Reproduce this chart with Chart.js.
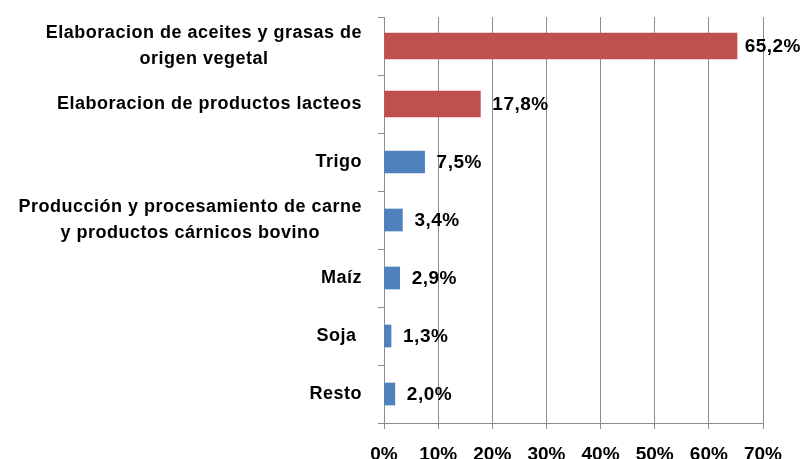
<!DOCTYPE html>
<html>
<head>
<meta charset="utf-8">
<script src="https://cdn.jsdelivr.net/npm/chart.js@4.4.1/dist/chart.umd.min.js"></script>
<style>
  html, body { margin: 0; padding: 0; background: #fff; }
  #wrap { width: 803px; height: 459px; }
</style>
</head>
<body>
<div id="wrap"><canvas id="chart"></canvas></div>
<script>
// Categories (multi-line ones split into arrays)
const categories = [
    ['Elaboracion de aceites y grasas de', 'origen vegetal'],
    ['Elaboracion de productos lacteos'],
    ['Trigo'],
    ['Producción y procesamiento de carne', 'y productos cárnicos bovino'],
    ['Maíz'],
    ['Soja '],
    ['Resto']
];
// Shares in %, red series (industrial) and blue series (primary)
const redValues = [65.2, 17.8, null, null, null, null, null];
const blueValues = [null, null, 7.5, 3.4, 2.9, 1.3, 2.0];
const xTicks = [0, 10, 20, 30, 40, 50, 60, 70];

const FAMILY = "'Liberation Sans', Arial, sans-serif";
const VALUE_FONT = "bold 19px " + FAMILY;
const LABEL_FONT = "bold 18px " + FAMILY;

// Draws the category names, centred line by line and right aligned as a block
const categoryLabels = {
    id: 'categoryLabels',
    afterDraw(chart) {
        const ctx = chart.ctx;
        const y = chart.scales.y;
        const lineH = 26;
        ctx.save();
        ctx.font = LABEL_FONT;
        ctx.letterSpacing = '0.5px';
        ctx.fillStyle = '#000';
        ctx.textBaseline = 'middle';
        ctx.textAlign = 'center';
        categories.forEach((lines, i) => {
            const cy = y.getPixelForTick(i);
            const w = Math.max(...lines.map(l => ctx.measureText(l).width));
            const cx = 362 - w / 2;
            const top = cy - (lines.length - 1) * lineH / 2;
            lines.forEach((l, j) => ctx.fillText(l, cx, top + j * lineH));
        });
        ctx.restore();
    }
};

// Value labels at the end of each bar
const valueLabels = {
    id: 'valueLabels',
    afterDatasetsDraw(chart) {
        const ctx = chart.ctx;
        ctx.save();
        ctx.font = VALUE_FONT;
        ctx.letterSpacing = '0.5px';
        ctx.fillStyle = '#000';
        ctx.textBaseline = 'middle';
        ctx.textAlign = 'left';
        chart.data.datasets.forEach((ds, di) => {
            const meta = chart.getDatasetMeta(di);
            meta.data.forEach((el, i) => {
                const v = ds.data[i];
                if (v == null) return;
                const txt = v.toFixed(1).replace('.', ',') + '%';
                let x = el.x + 12;
                const w = ctx.measureText(txt).width;
                if (x + w > 801) x = 801 - w;
                ctx.fillText(txt, x, el.y + 1);
            });
        });
        ctx.restore();
    }
};

new Chart(document.getElementById('chart'), {
    type: 'bar',
    data: {
        labels: categories.map(c => c.join(' ')),
        datasets: [
            {
                data: redValues,
                backgroundColor: '#C0504D',
                barThickness: 26,
                grouped: false
            },
            {
                data: blueValues,
                backgroundColor: '#4F81BD',
                barThickness: 22,
                grouped: false
            }
        ]
    },
    options: {
        responsive: true,
        maintainAspectRatio: false,
        animation: false,
        indexAxis: 'y',
        layout: { padding: { top: 17, right: 40, left: 0, bottom: 0 } },
        plugins: {
            legend: { display: false },
            tooltip: { enabled: false }
        },
        scales: {
            x: {
                min: 0,
                max: 70,
                afterBuildTicks: (scale) => { scale.ticks = xTicks.map(v => ({ value: v })); },
                afterFit: (scale) => { scale.height = 36; },
                grid: { color: '#8c8c8c', lineWidth: 1, tickLength: 6 },
                border: { color: '#8c8c8c', width: 1 },
                ticks: {
                    color: '#000',
                    padding: 14,
                    font: { family: FAMILY, size: 19, weight: 'bold' },
                    callback: (v) => v + '%'
                }
            },
            y: {
                afterFit: (scale) => { scale.width = 384; },
                grid: { drawOnChartArea: false, offset: true, color: '#8c8c8c', tickLength: 6 },
                border: { color: '#8c8c8c', width: 1 },
                ticks: { display: false }
            }
        }
    },
    plugins: [categoryLabels, valueLabels]
});
</script>
</body>
</html>
